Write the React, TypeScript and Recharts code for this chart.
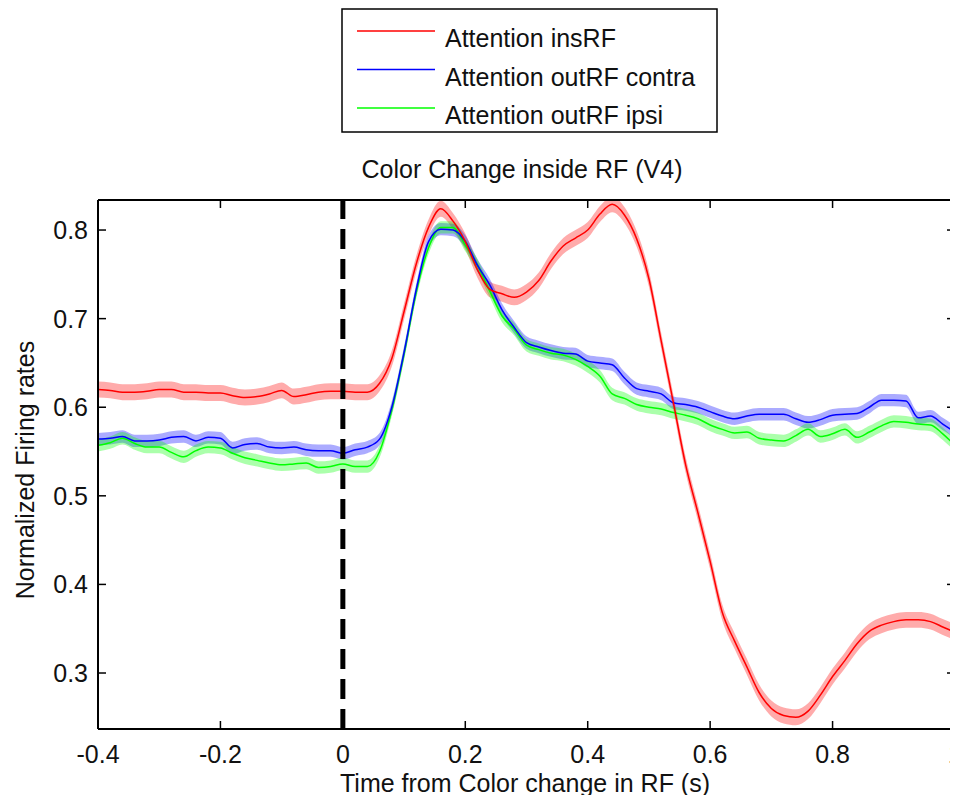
import React from "react";
import { Area, ComposedChart, Line, ReferenceLine, XAxis, YAxis } from "recharts";

const FONT = '"Liberation Sans", Arial, Helvetica, sans-serif';
const FS = 25;

// time bins (s) relative to color change
const time = [
  -0.4, -0.38, -0.36, -0.34, -0.32, -0.3, -0.28, -0.26, -0.24, -0.22, -0.2, -0.18, -0.16, -0.14,
  -0.12, -0.1, -0.08, -0.06, -0.04, -0.02, 0, 0.02, 0.04, 0.06, 0.08, 0.1, 0.12, 0.14, 0.16, 0.18,
  0.2, 0.22, 0.24, 0.26, 0.28, 0.3, 0.32, 0.34, 0.36, 0.38, 0.4, 0.42, 0.44, 0.46, 0.48, 0.5, 0.52,
  0.54, 0.56, 0.58, 0.6, 0.62, 0.64, 0.66, 0.68, 0.7, 0.72, 0.74, 0.76, 0.78, 0.8, 0.82, 0.84, 0.86,
  0.88, 0.9, 0.92, 0.94, 0.96, 0.98, 1,
];

const insRF = [
  0.62, 0.619, 0.617, 0.617, 0.618, 0.62, 0.62, 0.617, 0.617, 0.616, 0.616, 0.613, 0.611, 0.612,
  0.615, 0.619, 0.612, 0.614, 0.617, 0.618, 0.618, 0.617, 0.617, 0.627, 0.655, 0.708, 0.762, 0.803,
  0.824, 0.81, 0.787, 0.755, 0.733, 0.728, 0.724, 0.73, 0.743, 0.765, 0.782, 0.791, 0.8, 0.818,
  0.829, 0.817, 0.79, 0.745, 0.675, 0.605, 0.535, 0.481, 0.426, 0.368, 0.336, 0.307, 0.278, 0.26,
  0.252, 0.25, 0.257, 0.275, 0.296, 0.314, 0.333, 0.347, 0.354, 0.358, 0.36, 0.36, 0.358, 0.352,
  0.346,
];

const outContra = [
  0.564, 0.565, 0.567, 0.562, 0.562, 0.563, 0.566, 0.567, 0.562, 0.566, 0.565, 0.554, 0.558, 0.559,
  0.555, 0.554, 0.555, 0.552, 0.551, 0.551, 0.548, 0.552, 0.555, 0.564, 0.6, 0.662, 0.733, 0.787,
  0.801, 0.8, 0.787, 0.76, 0.738, 0.71, 0.69, 0.673, 0.668, 0.664, 0.661, 0.66, 0.652, 0.65, 0.648,
  0.633, 0.621, 0.618, 0.615, 0.605, 0.603, 0.6, 0.595, 0.59, 0.587, 0.59, 0.592, 0.592, 0.592,
  0.587, 0.583, 0.586, 0.591, 0.592, 0.593, 0.6, 0.608, 0.608, 0.607, 0.588, 0.59, 0.581, 0.572,
];

const outIpsi = [
  0.557, 0.56, 0.565, 0.559, 0.555, 0.555, 0.549, 0.544, 0.551, 0.555, 0.554, 0.548, 0.543, 0.54,
  0.537, 0.535, 0.536, 0.537, 0.532, 0.533, 0.536, 0.533, 0.533, 0.55, 0.597, 0.66, 0.73, 0.78,
  0.803, 0.803, 0.783, 0.76, 0.731, 0.703, 0.688, 0.67, 0.665, 0.661, 0.659, 0.654, 0.646, 0.635,
  0.615, 0.61, 0.603, 0.6, 0.598, 0.594, 0.591, 0.587, 0.58, 0.575, 0.571, 0.572, 0.565, 0.563,
  0.562, 0.568, 0.575, 0.567, 0.57, 0.575, 0.566, 0.572, 0.579, 0.584, 0.583, 0.581, 0.58, 0.57,
  0.557,
];

// standard error half-widths
const semIns = 0.009;
const semContra = 0.007;
const semIpsi = 0.007;

const xTicks = [-0.4, -0.2, 0, 0.2, 0.4, 0.6, 0.8, 1];
const yTicks = [0.3, 0.4, 0.5, 0.6, 0.7, 0.8];
const xDomain = [-0.4, 1];
const yDomain = [0.2368, 0.8339];

const legendNames = ["Attention insRF", "Attention outRF contra", "Attention outRF ipsi"];
const colors = ["#ff0000", "#0000ff", "#00ff00"];

const rows = time.map((t, i) => ({
  t,
  ins: insRF[i],
  contra: outContra[i],
  ipsi: outIpsi[i],
  insBand: [insRF[i] - semIns, insRF[i] + semIns],
  contraBand: [outContra[i] - semContra, outContra[i] + semContra],
  ipsiBand: [outIpsi[i] - semIpsi, outIpsi[i] + semIpsi],
}));

const W = 950;
const H = 787;
const MARGIN = { top: 192, right: 3, bottom: 65, left: 89 };
// plot box in svg px (axis widths are 1)
const BOX = {
  left: MARGIN.left + 1,
  top: MARGIN.top,
  right: W - MARGIN.right,
  bottom: H - MARGIN.bottom - 1,
};
const TICK = 8;

const px = (v: number) =>
  BOX.left + ((v - xDomain[0]) / (xDomain[1] - xDomain[0])) * (BOX.right - BOX.left);
const py = (v: number) =>
  BOX.bottom - ((v - yDomain[0]) / (yDomain[1] - yDomain[0])) * (BOX.bottom - BOX.top);

function fmt(v: number) {
  return String(Math.round(v * 10) / 10);
}

function LeftTick({ x, y, payload }: any) {
  return (
    <g>
      <line x1={x} x2={x + TICK} y1={y} y2={y} stroke="#000" strokeWidth={1.5} />
      <text x={x - 10} y={y + 9} textAnchor="end" fontSize={FS} fill="#111" fontFamily={FONT}>
        {fmt(payload.value)}
      </text>
    </g>
  );
}

function BottomTick({ x, y, payload }: any) {
  return (
    <g>
      <line x1={x} x2={x} y1={y} y2={y - TICK} stroke="#000" strokeWidth={1.5} />
      <text x={x} y={y + 34} textAnchor="middle" fontSize={FS} fill="#111" fontFamily={FONT}>
        {fmt(payload.value)}
      </text>
    </g>
  );
}

const axisLine = { stroke: "#000", strokeWidth: 2 };

export default function App() {
  return (
    <div style={{ position: "relative", width: W, height: H, fontFamily: FONT }}>
      <ComposedChart width={W} height={H} data={rows} margin={MARGIN}>
        <XAxis
          type="number"
          dataKey="t"
          domain={xDomain}
          ticks={xTicks}
          interval={0}
          allowDataOverflow
          height={1}
          tickSize={0}
          tickMargin={0}
          tickLine={false}
          axisLine={axisLine}
          tick={<BottomTick />}
        />
        <YAxis
          type="number"
          domain={yDomain}
          ticks={yTicks}
          interval={0}
          allowDataOverflow
          width={1}
          tickSize={0}
          tickMargin={0}
          tickLine={false}
          axisLine={axisLine}
          tick={<LeftTick />}
        />

        <Area dataKey="insBand" type="monotone" stroke="none" fill={colors[0]} fillOpacity={0.33} isAnimationActive={false} />
        <Area dataKey="contraBand" type="monotone" stroke="none" fill={colors[1]} fillOpacity={0.33} isAnimationActive={false} />
        <Area dataKey="ipsiBand" type="monotone" stroke="none" fill={colors[2]} fillOpacity={0.33} isAnimationActive={false} />

        <Line dataKey="ipsi" type="monotone" stroke={colors[2]} strokeWidth={1.5} dot={false} activeDot={false} isAnimationActive={false} />
        <Line dataKey="contra" type="monotone" stroke={colors[1]} strokeWidth={1.5} dot={false} activeDot={false} isAnimationActive={false} />
        <Line dataKey="ins" type="monotone" stroke={colors[0]} strokeWidth={1.5} dot={false} activeDot={false} isAnimationActive={false} />

        <ReferenceLine x={0} stroke="#000" strokeWidth={5} strokeDasharray="20 10" />
      </ComposedChart>

      <svg
        width={W}
        height={H}
        style={{ position: "absolute", left: 0, top: 0, pointerEvents: "none", overflow: "visible" }}
      >
        {/* top and right edges of the axes box with inward ticks */}
        <line x1={BOX.left} x2={BOX.right} y1={BOX.top} y2={BOX.top} stroke="#000" strokeWidth={2} />
        <line x1={BOX.right} x2={BOX.right} y1={BOX.top} y2={BOX.bottom} stroke="#000" strokeWidth={2} />
        {xTicks.map((t) => (
          <line key={"tx" + t} x1={px(t)} x2={px(t)} y1={BOX.top} y2={BOX.top + TICK} stroke="#000" strokeWidth={1.5} />
        ))}
        {yTicks.map((v) => (
          <line key={"ty" + v} x1={BOX.right} x2={BOX.right - TICK} y1={py(v)} y2={py(v)} stroke="#000" strokeWidth={1.5} />
        ))}

        <text x={514} y={170} textAnchor="middle" fontSize={FS} fill="#111" fontFamily={FONT}>
          Color Change inside RF (V4)
        </text>
        <text x={517} y={784} textAnchor="middle" fontSize={FS} fill="#111" fontFamily={FONT}>
          Time from Color change in RF (s)
        </text>
        <text
          x={26}
          y={462}
          textAnchor="middle"
          fontSize={FS}
          fill="#111"
          fontFamily={FONT}
          transform="rotate(-90, 26, 462)"
        >
          Normalized Firing rates
        </text>

        <g transform="translate(334, 1)">
          <rect x={0} y={0} width={375} height={123} fill="#fff" stroke="#000" strokeWidth={1.5} />
          {legendNames.map((name, i) => (
            <g key={name}>
              <line x1={15} x2={93} y1={22 + i * 38.5} y2={22 + i * 38.5} stroke={colors[i]} strokeWidth={1.5} />
              <text x={103} y={38 + i * 38.5} fontSize={FS} fill="#111" fontFamily={FONT}>
                {name}
              </text>
            </g>
          ))}
        </g>
      </svg>
    </div>
  );
}
